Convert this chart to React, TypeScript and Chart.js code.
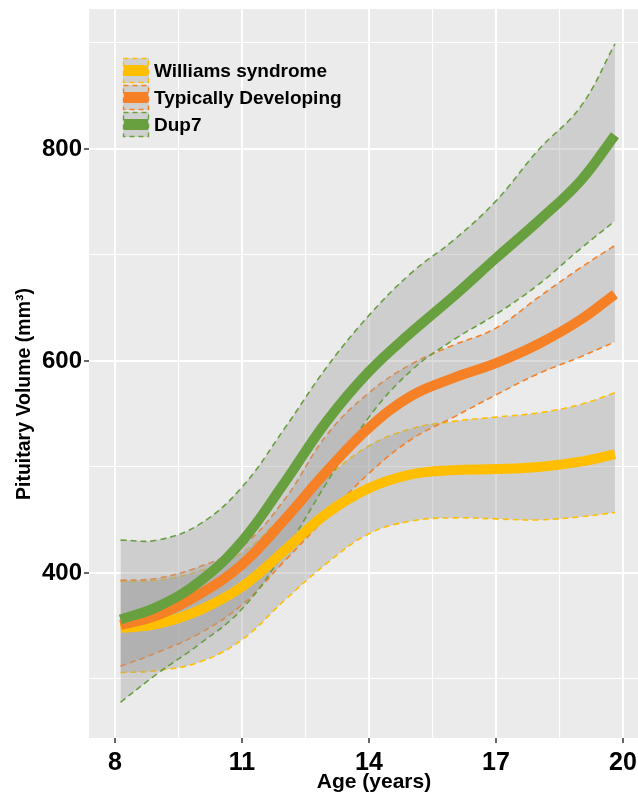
import React, { useEffect, useRef } from "react";
import { Chart, registerables } from "chart.js";

Chart.register(...registerables);

// Age grid (years) at which the fitted curves and their bands are sampled
const AGES = [8.13, 9, 10, 11, 12, 13, 14, 15, 16, 17, 18, 19, 19.81];

// Williams syndrome: fitted pituitary volume (mm³) with lower/upper band
const WS_MEAN = [348, 352, 365, 387, 421, 456, 480, 493, 497, 498, 500, 505, 512];
const WS_LOW = [306, 308, 316, 337, 374, 409, 437, 449, 452, 451, 450, 453, 457];
const WS_HIGH = [392, 393, 402, 419, 455, 490, 520, 536, 543, 547, 551, 559, 570];

// Typically developing
const TD_MEAN = [351, 360, 380, 408, 450, 496, 537, 567, 584, 598, 616, 639, 663];
const TD_LOW = [312, 325, 343, 370, 411, 453, 494, 526, 547, 568, 588, 604, 618];
const TD_HIGH = [393, 395, 406, 425, 469, 530, 570, 597, 615, 631, 660, 688, 709];

// Dup7
const DUP_MEAN = [356, 368, 392, 430, 485, 543, 590, 627, 661, 697, 732, 770, 813];
const DUP_LOW = [278, 305, 333, 366, 420, 485, 547, 591, 620, 644, 672, 706, 732];
const DUP_HIGH = [431, 431, 446, 481, 536, 594, 643, 683, 714, 751, 799, 840, 899];

const GROUP_NAMES = ["Williams syndrome", "Typically Developing", "Dup7"];
const GROUP_COLORS = ["#FFBF00", "#F58025", "#68A040"];

const X_TICKS = [8, 9.5, 11, 12.5, 14, 15.5, 17, 18.5, 20];
const X_MAJOR = [8, 11, 14, 17, 20];
const Y_TICKS = [300, 400, 500, 600, 700, 800, 900];
const Y_MAJOR = [400, 600, 800];

const X_TITLE = "Age (years)";
const Y_TITLE = "Pituitary Volume (mm³)";

const X_MIN = 7.386;
const X_MAX = 20.354;
const Y_MIN = 244.3;
const Y_MAX = 932;

const FONT_FAMILY = "'Liberation Sans', Arial, Helvetica, sans-serif";
const BAND_FILL = "rgba(160,160,160,0.38)";
const PANEL_BG = "#EBEBEB";

const toPoints = (values: number[]) => AGES.map((age, i) => ({ x: age, y: values[i] }));

const panelBackground = {
  id: "panelBackground",
  beforeDraw(chart: any) {
    const { ctx, chartArea } = chart;
    ctx.save();
    ctx.fillStyle = PANEL_BG;
    ctx.fillRect(chartArea.left, chartArea.top, chartArea.right - chartArea.left, chartArea.bottom - chartArea.top);
    ctx.restore();
  },
};

// Axis titles, placed relative to the full (wider) plotting panel
const axisTitles = {
  id: "axisTitles",
  afterDraw(chart: any) {
    const { ctx } = chart;
    ctx.save();
    ctx.fillStyle = "#000";
    ctx.textAlign = "center";
    ctx.textBaseline = "middle";
    ctx.font = `bold 21px ${FONT_FAMILY}`;
    ctx.fillText(X_TITLE, 374, 782);
    ctx.translate(25, 394);
    ctx.rotate(-Math.PI / 2);
    ctx.font = `bold 19.5px ${FONT_FAMILY}`;
    ctx.fillText(Y_TITLE, 0, 0);
    ctx.restore();
  },
};

const groupLegend = {
  id: "groupLegend",
  afterDraw(chart: any) {
    const { ctx } = chart;
    const keyX = 123;
    const keyW = 26;
    const keyH = 25;
    const firstTop = 58;
    const rowStep = 27;
    ctx.save();
    GROUP_NAMES.forEach((name, i) => {
      const top = firstTop + i * rowStep;
      const color = GROUP_COLORS[i];
      ctx.fillStyle = "#D0D0D0";
      ctx.fillRect(keyX, top, keyW, keyH);
      ctx.strokeStyle = color;
      ctx.lineWidth = 1.4;
      ctx.setLineDash([5, 4]);
      ctx.strokeRect(keyX + 0.5, top + 0.5, keyW - 1, keyH - 1);
      ctx.setLineDash([]);
      ctx.fillStyle = color;
      ctx.fillRect(keyX + 1, top + keyH / 2 - 5.5, keyW - 2, 11);
      ctx.fillStyle = "#000";
      ctx.font = `bold 19px ${FONT_FAMILY}`;
      ctx.textAlign = "left";
      ctx.textBaseline = "middle";
      ctx.fillText(name, keyX + keyW + 5, top + keyH / 2 + 1);
    });
    ctx.restore();
  },
};

export default function App() {
  const canvasRef = useRef<HTMLCanvasElement | null>(null);

  useEffect(() => {
    document.body.style.margin = "0";
    const canvas = canvasRef.current;
    if (!canvas) return;

    const bands = [
      { low: WS_LOW, high: WS_HIGH },
      { low: TD_LOW, high: TD_HIGH },
      { low: DUP_LOW, high: DUP_HIGH },
    ];
    const means = [WS_MEAN, TD_MEAN, DUP_MEAN];

    const datasets: any[] = [];
    // Confidence bands: upper edge filled down to the lower edge, both dashed
    bands.forEach((b, i) => {
      const color = GROUP_COLORS[i];
      const baseOrder = 10 - i * 2;
      datasets.push({
        label: GROUP_NAMES[i] + " upper",
        data: toPoints(b.high),
        borderColor: color,
        borderWidth: 1.6,
        borderDash: [6, 4],
        backgroundColor: BAND_FILL,
        fill: "+1",
        pointRadius: 0,
        tension: 0.4,
        order: baseOrder,
      });
      datasets.push({
        label: GROUP_NAMES[i] + " lower",
        data: toPoints(b.low),
        borderColor: color,
        borderWidth: 1.6,
        borderDash: [6, 4],
        fill: false,
        pointRadius: 0,
        tension: 0.4,
        order: baseOrder - 1,
      });
    });
    // Fitted curves on top
    means.forEach((m, i) => {
      datasets.push({
        label: GROUP_NAMES[i],
        data: toPoints(m),
        borderColor: GROUP_COLORS[i],
        borderWidth: 10,
        borderCapStyle: "butt",
        fill: false,
        pointRadius: 0,
        tension: 0.4,
        order: 3 - i,
      });
    });

    const isMajorX = (v: number) => X_MAJOR.includes(v);
    const isMajorY = (v: number) => Y_MAJOR.includes(v);

    const chart = new Chart(canvas, {
      type: "line",
      data: { datasets },
      plugins: [panelBackground, groupLegend, axisTitles],
      options: {
        animation: false,
        responsive: false,
        maintainAspectRatio: false,
        layout: { padding: { top: 9, left: 0, right: 0, bottom: 0 } },
        plugins: {
          legend: { display: false },
          tooltip: { enabled: false },
        },
        scales: {
          x: {
            type: "linear",
            min: X_MIN,
            max: X_MAX,
            afterBuildTicks: (axis: any) => {
              axis.ticks = X_TICKS.map((v) => ({ value: v }));
            },
            afterFit: (axis: any) => {
              axis.height = 54;
              axis.paddingLeft = 0;
              axis.paddingRight = 0;
            },
            border: { display: false },
            grid: {
              color: "#FFFFFF",
              lineWidth: (c: any) => (c.tick && isMajorX(c.tick.value) ? 2 : 1.1),
              tickColor: (c: any) => (c.tick && isMajorX(c.tick.value) ? "#333333" : "rgba(0,0,0,0)"),
              tickWidth: 1.5,
              tickLength: 5,
            },
            ticks: {
              autoSkip: false,
              maxRotation: 0,
              padding: 5,
              color: "#000",
              font: { family: FONT_FAMILY, size: 25, weight: "bold" },
              callback: (v: any) => (isMajorX(Number(v)) ? String(v) : ""),
            },
          },
          y: {
            type: "linear",
            min: Y_MIN,
            max: Y_MAX,
            afterBuildTicks: (axis: any) => {
              axis.ticks = Y_TICKS.map((v) => ({ value: v }));
            },
            afterFit: (axis: any) => {
              axis.width = 89;
              axis.paddingTop = 0;
              axis.paddingBottom = 0;
            },
            border: { display: false },
            grid: {
              color: "#FFFFFF",
              lineWidth: (c: any) => (c.tick && isMajorY(c.tick.value) ? 2 : 1.1),
              tickColor: (c: any) => (c.tick && isMajorY(c.tick.value) ? "#333333" : "rgba(0,0,0,0)"),
              tickWidth: 1.5,
              tickLength: 5,
            },
            ticks: {
              autoSkip: false,
              padding: 2,
              color: "#000",
              font: { family: FONT_FAMILY, size: 24, weight: "bold" },
              callback: (v: any) => (isMajorY(Number(v)) ? String(v) : ""),
            },
          },
        },
      } as any,
    });

    return () => chart.destroy();
  }, []);

  return (
    <div style={{ width: 638, height: 792 }}>
      <canvas ref={canvasRef} width={638} height={792} />
    </div>
  );
}
